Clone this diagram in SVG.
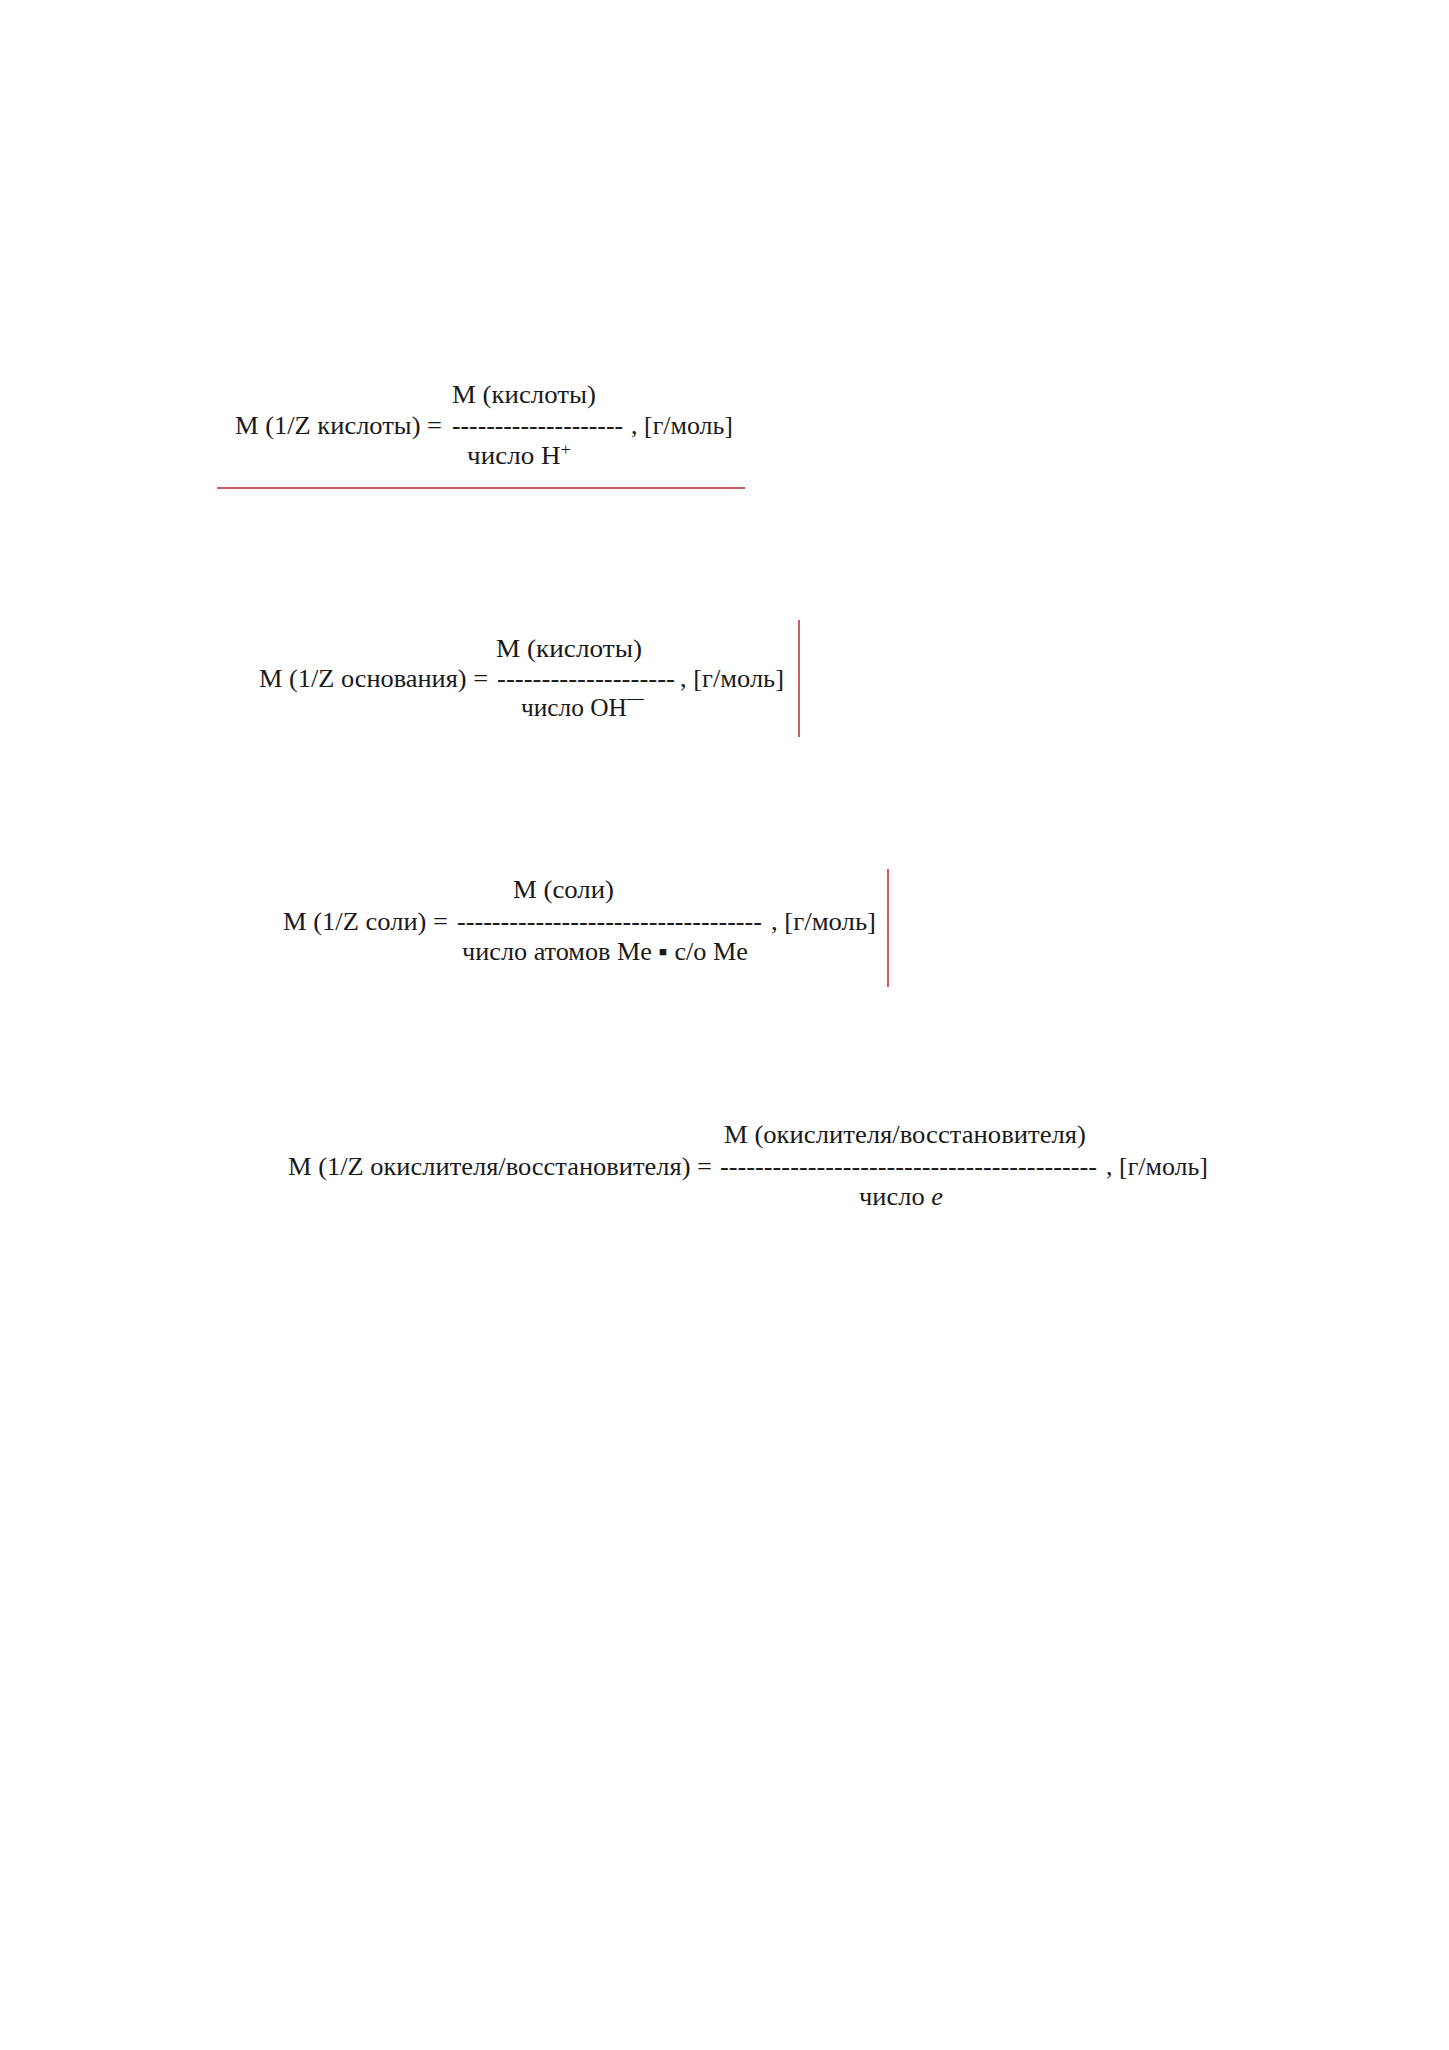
<svg xmlns="http://www.w3.org/2000/svg" width="1449" height="2050" viewBox="0 0 1449 2050">
<style>
text{font-family:"Liberation Serif","Times New Roman",serif;font-size:25px;fill:#1a1a1a}
.sup{font-size:17px}
.red{stroke:#b8262e;stroke-width:1.5;fill:none}
</style>
<rect width="1449" height="2050" fill="#ffffff"/>
<g id="formula-acid">
<text x="452" y="403" textLength="144" lengthAdjust="spacingAndGlyphs">M (кислоты)</text>
<text x="235" y="434" textLength="207" lengthAdjust="spacingAndGlyphs">M (1/Z кислоты) =</text>
<text x="452" y="434" textLength="171" lengthAdjust="spacingAndGlyphs">--------------------</text>
<text x="631" y="434" textLength="102" lengthAdjust="spacingAndGlyphs">, [г/моль]</text>
<text x="467" y="464" textLength="104" lengthAdjust="spacingAndGlyphs">число H<tspan class="sup" dy="-9">+</tspan></text>
</g>
<g id="formula-base">
<text x="496" y="657" textLength="146" lengthAdjust="spacingAndGlyphs">M (кислоты)</text>
<text x="259" y="687" textLength="229" lengthAdjust="spacingAndGlyphs">M (1/Z основания) =</text>
<text x="497" y="687" textLength="178" lengthAdjust="spacingAndGlyphs">--------------------</text>
<text x="680" y="687" textLength="104" lengthAdjust="spacingAndGlyphs">, [г/моль]</text>
<text x="521" y="716" textLength="123" lengthAdjust="spacingAndGlyphs">число OH<tspan class="sup" dy="-13">—</tspan></text>
</g>
<g id="formula-salt">
<text x="513" y="898" textLength="101" lengthAdjust="spacingAndGlyphs">M (соли)</text>
<text x="283" y="930" textLength="165" lengthAdjust="spacingAndGlyphs">M (1/Z соли) =</text>
<text x="457" y="930" textLength="305" lengthAdjust="spacingAndGlyphs">-----------------------------------</text>
<text x="771" y="930" textLength="105" lengthAdjust="spacingAndGlyphs">, [г/моль]</text>
<text x="462" y="960" textLength="286" lengthAdjust="spacingAndGlyphs">число атомов Me ▪ с/о Me</text>
</g>
<g id="formula-redox">
<text x="724" y="1143" textLength="362" lengthAdjust="spacingAndGlyphs">M (окислителя/восстановителя)</text>
<text x="288" y="1175" textLength="424" lengthAdjust="spacingAndGlyphs">M (1/Z окислителя/восстановителя) =</text>
<text x="720" y="1175" textLength="377" lengthAdjust="spacingAndGlyphs">-------------------------------------------</text>
<text x="1106" y="1175" textLength="102" lengthAdjust="spacingAndGlyphs">, [г/моль]</text>
<text x="859" y="1205" textLength="84" lengthAdjust="spacingAndGlyphs">число <tspan font-style="italic">e</tspan></text>
</g>
<g id="connectors">
<line class="red" x1="217" y1="488" x2="745" y2="488"/>
<line class="red" x1="799" y1="620" x2="799" y2="737"/>
<line class="red" x1="888" y1="869" x2="888" y2="987"/>
</g>
</svg>
